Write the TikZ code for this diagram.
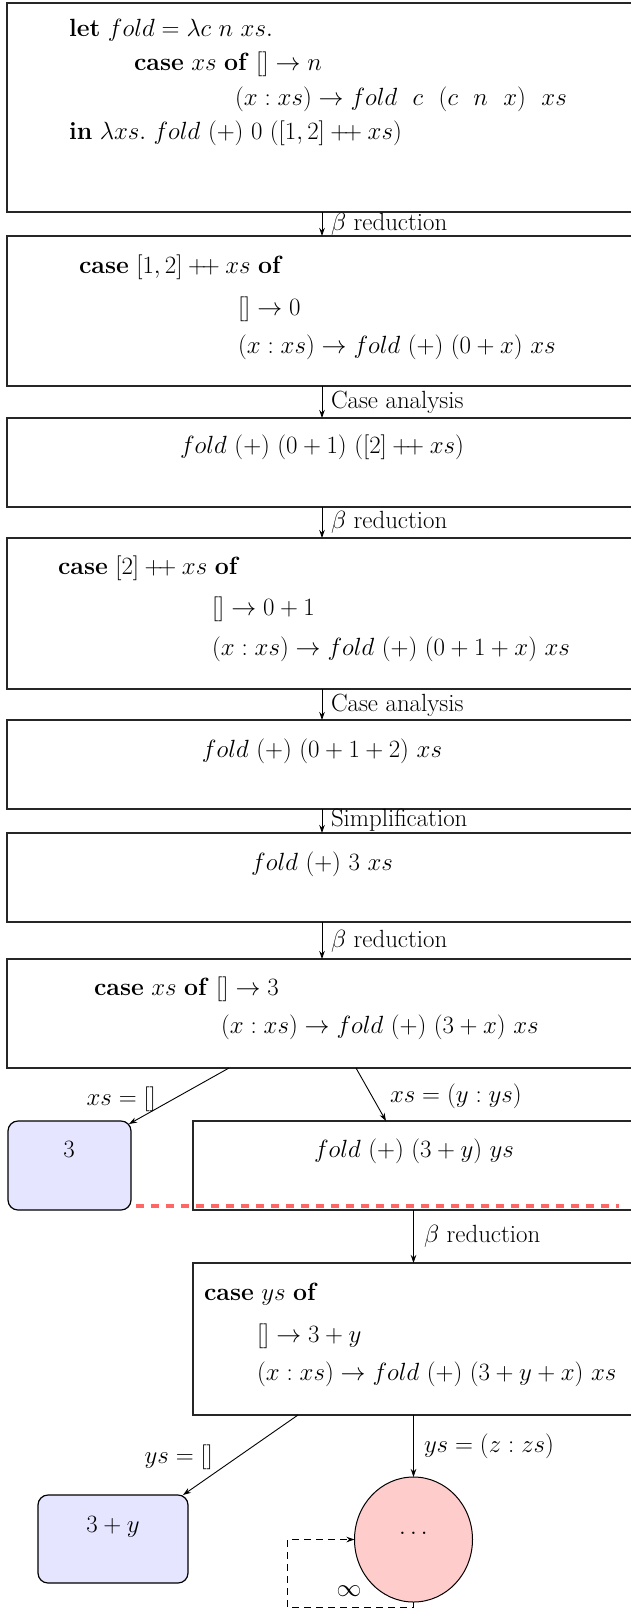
\documentclass[tikz,border=0pt]{standalone}
\usetikzlibrary{arrows.meta,shapes.geometric}
\newcommand{\cat}{\mathbin{+\!+}}
\newcommand{\wsp}{\hspace{0.62em}}
\tikzset{
  every node/.style={font=\fontsize{24.88}{30}\selectfont},
  box/.style={draw=black!85, line width=1.2pt, rectangle, outer sep=0pt, inner sep=0pt, anchor=north west},
  rbox/.style={box, rounded corners=10pt, fill=blue!10, draw=black},
  blob/.style={ellipse, draw=black, line width=1pt, fill=red!20, outer sep=0pt, inner sep=0pt},
  txt/.style={inner sep=0pt, outer sep=0pt, anchor=base west},
  ctxt/.style={inner sep=0pt, outer sep=0pt, anchor=base},
  etxt/.style={inner sep=0pt, outer sep=0pt, anchor=base east},
  arr/.style={-{Stealth[length=8pt,width=5.5pt]}, line width=0.9pt},
  loopline/.style={-{Stealth[length=8pt,width=5.5pt]}, line width=0.9pt, dash pattern=on 7pt off 5pt},
  reddash/.style={draw=red!60, line width=4pt, dash pattern=on 8pt off 7pt},
}
\begin{document}
\begin{tikzpicture}[x=1pt,y=-1pt]
\useasboundingbox (0,0) rectangle (631,1608);
\fill[white] (0,0) rectangle (631,1608);
\begin{scope}
\clip (0,0) rectangle (631,1608);
% boxes
\node[box, minimum width=630pt, minimum height=209pt] (b1) at (7,3) {};
\node[box, minimum width=630pt, minimum height=150pt] (b2) at (7,236) {};
\node[box, minimum width=630pt, minimum height=89pt] (b3) at (7,418) {};
\node[box, minimum width=630pt, minimum height=151pt] (b4) at (7,538) {};
\node[box, minimum width=630pt, minimum height=89pt] (b5) at (7,720) {};
\node[box, minimum width=630pt, minimum height=89pt] (b6) at (7,833) {};
\node[box, minimum width=630pt, minimum height=109pt] (b7) at (7,959) {};
\node[rbox, minimum width=123pt, minimum height=89pt] (r3) at (8,1121) {};
\node[box, minimum width=441pt, minimum height=89pt] (b8) at (193,1121) {};
\node[box, minimum width=441pt, minimum height=152pt] (b9) at (193,1263) {};
\node[rbox, minimum width=150pt, minimum height=88pt] (r3y) at (38,1495) {};
\node[blob, minimum width=118pt, minimum height=125pt] (c) at (413.5,1539.5) {};
% texts in boxes
\node[txt] (t1a) at (69,37) {\textbf{let} $fold = \lambda c\ n\ xs.$};
\node[txt] (t1b) at (134,71) {\textbf{case} $xs$ \textbf{of} $[] \to n$};
\node[txt] (t1c) at (235,106) {$(x : xs) \to fold\wsp c\wsp (c\wsp n\wsp x)\wsp xs$};
\node[txt] (t1d) at (69,140) {\textbf{in} $\lambda xs.\ fold\ (+)\ 0\ ([1,2] \cat xs)$};
\node[txt] (t2a) at (79,273) {\textbf{case} $[1,2] \cat xs$ \textbf{of}};
\node[txt] (t2b) at (238,315) {$[] \to 0$};
\node[txt] (t2c) at (238,353) {$(x : xs) \to fold\ (+)\ (0 + x)\ xs$};
\node[ctxt] (t3) at (322,453) {$fold\ (+)\ (0 + 1)\ ([2] \cat xs)$};
\node[txt] (t4a) at (58,574) {\textbf{case} $[2] \cat xs$ \textbf{of}};
\node[txt] (t4b) at (212,615) {$[] \to 0 + 1$};
\node[txt] (t4c) at (212,655) {$(x : xs) \to fold\ (+)\ (0 + 1 + x)\ xs$};
\node[ctxt] (t5) at (322,757) {$fold\ (+)\ (0 + 1 + 2)\ xs$};
\node[ctxt] (t6) at (322,870) {$fold\ (+)\ 3\ xs$};
\node[txt] (t7a) at (94,995) {\textbf{case} $xs$ \textbf{of} $[] \to 3$};
\node[txt] (t7b) at (221,1033) {$(x : xs) \to fold\ (+)\ (3 + x)\ xs$};
\node[ctxt] (t3n) at (69,1157) {$3$};
\node[ctxt] (t8) at (414,1157) {$fold\ (+)\ (3 + y)\ ys$};
\node[txt] (t9a) at (204,1300) {\textbf{case} $ys$ \textbf{of}};
\node[txt] (t9b) at (257,1342) {$[] \to 3 + y$};
\node[txt] (t9c) at (257,1380) {$(x : xs) \to fold\ (+)\ (3 + y + x)\ xs$};
\node[ctxt] (t3y) at (113,1532) {$3 + y$};
\node[ctxt] (tdots) at (413.5,1534) {$\ldots$};
% red dashed separator
\draw[reddash] ([shift={(5,-4)}]r3.south east) -- ([shift={(-15,-4)}]b8.south east);
% vertical connectors
\draw[arr] (b1.south) -- (b2.north);
\draw[arr] (b2.south) -- (b3.north);
\draw[arr] (b3.south) -- (b4.north);
\draw[arr] (b4.south) -- (b5.north);
\draw[arr] (b5.south) -- (b6.north);
\draw[arr] (b6.south) -- (b7.north);
\draw[arr] (b8.south) -- (b9.north);
\draw[arr] (b9.south) -- (c.north);
% branch connectors
\draw[arr] ([xshift=222pt]b7.south west) -- ([shift={(-2,3)}]r3.north east);
\draw[arr] ([xshift=349pt]b7.south west) -- ([xshift=193pt]b8.north west);
\draw[arr] ([xshift=105pt]b9.south west) -- ([shift={(-5,0)}]r3y.north east);
% loop
\coordinate (lp) at (287,1607);
\draw[loopline] (c.south) |- (lp) |- (c.west);
% labels
\node[txt] (l1) at (331,230) {$\beta$ reduction};
\node[txt] (l2) at (331,408) {Case analysis};
\node[txt] (l3) at (331,528) {$\beta$ reduction};
\node[txt] (l4) at (331,711) {Case analysis};
\node[txt] (l5) at (331,826) {Simplification};
\node[txt] (l6) at (331,947) {$\beta$ reduction};
\node[etxt] (l7) at (156,1105) {$xs = []$};
\node[txt] (l8) at (390,1102) {$xs = (y : ys)$};
\node[txt] (l9) at (424,1242) {$\beta$ reduction};
\node[etxt] (l10) at (213,1463) {$ys = []$};
\node[txt] (l11) at (424,1452) {$ys = (z : zs)$};
\node[ctxt] (linf) at (349,1596) {$\infty$};
\end{scope}
\end{tikzpicture}
\end{document}
